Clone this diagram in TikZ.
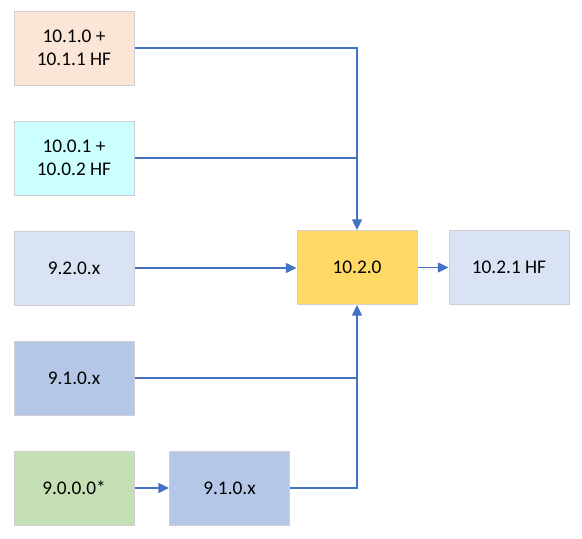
\documentclass[tikz,border=0pt]{standalone}
\usepackage{fontspec}
\setmainfont{Carlito}
\usetikzlibrary{arrows.meta}
\definecolor{lineblue}{HTML}{4472C4}
\definecolor{boxborder}{HTML}{D0CECE}
\definecolor{cpeach}{HTML}{FBE5D6}
\definecolor{ccyan}{HTML}{CCFFFF}
\definecolor{cpale}{HTML}{DAE3F3}
\definecolor{cblue}{HTML}{B4C7E7}
\definecolor{cgreen}{HTML}{C5E0B4}
\definecolor{cgold}{HTML}{FFD966}
\tikzset{
  verbox/.style={draw=boxborder, line width=0.75pt, minimum width=90pt, minimum height=55.5pt,
    inner sep=0pt, align=center, font=\fontsize{14.5pt}{17.4pt}\selectfont},
  conn/.style={draw=lineblue, line width=1pt},
  arr/.style={conn, -{Triangle[length=8pt,width=7.5pt]}}
}
\begin{document}
\begin{tikzpicture}[x=0.75pt,y=-0.75pt]
\useasboundingbox (0,0) rectangle (582,539);
\node[verbox, fill=cpeach] (b1) at (74,48) {10.1.0 +\\10.1.1 HF};
\node[verbox, fill=ccyan] (b2) at (74,158) {10.0.1 +\\10.0.2 HF};
\node[verbox, fill=cpale] (b3) at (74,268) {9.2.0.x};
\node[verbox, fill=cblue] (b4) at (74,378) {9.1.0.x};
\node[verbox, fill=cgreen] (b5) at (74,488) {9.0.0.0*};
\node[verbox, fill=cblue] (b6) at (229.5,488) {9.1.0.x};
\node[verbox, fill=cgold] (c) at (357,267.5) {10.2.0};
\node[verbox, fill=cpale] (hf) at (509,267.5) {10.2.1 HF};
\draw[arr] (b1.east) -| (c.north);
\draw[conn] (b2.east) -- (b2.east -| c.north);
\draw[arr] (b3.east) -- (b3.east -| c.west);
\draw[conn] (b4.east) -- (b4.east -| c.south);
\draw[arr] (b6.east) -| (c.south);
\draw[arr] (b5.east) -- (b6.west);
\draw[arr] (c.east) -- (hf.west);
\end{tikzpicture}
\end{document}
